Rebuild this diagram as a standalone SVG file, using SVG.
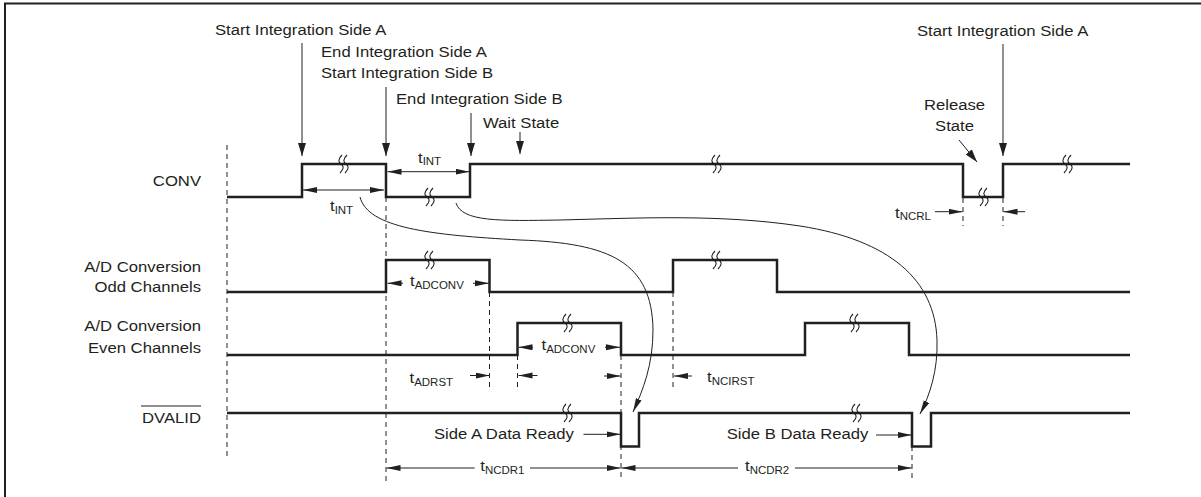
<svg xmlns="http://www.w3.org/2000/svg" width="1201" height="497" viewBox="0 0 1201 497">
<style>
text{font-family:"Liberation Sans",Arial,Helvetica,sans-serif;font-size:14.5px;fill:#231f20}
.sub{font-size:10px}
.sig{fill:none;stroke:#231f20;stroke-width:2.5;stroke-linejoin:miter}
.thin{fill:none;stroke:#231f20;stroke-width:1}
.dash{fill:none;stroke:#231f20;stroke-width:1;stroke-dasharray:5 4}
.brk{fill:none;stroke:#231f20;stroke-width:1.1}
.h{marker-end:url(#ah)}
.hh{marker-start:url(#ah);marker-end:url(#ah)}
.v{marker-end:url(#av)}
</style>
<defs>
<marker id="ah" markerUnits="userSpaceOnUse" markerWidth="15" markerHeight="7" refX="14" refY="3" orient="auto-start-reverse" viewBox="0 0 15 7">
<path d="M0,0 L14,3 L0,6 z" fill="#231f20"/>
</marker>
<marker id="av" markerUnits="userSpaceOnUse" markerWidth="14" markerHeight="9" refX="13" refY="4" orient="auto" viewBox="0 0 14 9">
<path d="M0,0 L13,4 L0,8 z" fill="#231f20"/>
</marker>
<g id="brk">
<path d="M0,-9 C-4,-5 -4,-2 -1,0 C2,2 2,5 -2,9"/>
<path d="M5,-9 C1,-5 1,-2 4,0 C7,2 7,5 3,9"/>
</g>
</defs>

<g id="frame">
<path d="M5,497 V3.5 H1201" fill="none" stroke="#231f20" stroke-width="2"/>
</g>

<g id="signal-labels">
<text transform="translate(201,185.5) scale(1.15,1)" text-anchor="end">CONV</text>
<text transform="translate(201,271.5) scale(1.15,1)" text-anchor="end">A/D Conversion</text>
<text transform="translate(201,291.5) scale(1.15,1)" text-anchor="end">Odd Channels</text>
<text transform="translate(201,330.5) scale(1.15,1)" text-anchor="end">A/D Conversion</text>
<text transform="translate(201,352.5) scale(1.15,1)" text-anchor="end">Even Channels</text>
<text transform="translate(201,423) scale(1.15,1)" text-anchor="end">DVALID</text>
<line x1="141" y1="406" x2="201" y2="406" stroke="#231f20" stroke-width="1"/>
</g>

<g id="guides">
<line class="dash" x1="227" y1="145" x2="227" y2="457"/>
<line class="dash" x1="386" y1="197" x2="386" y2="485"/>
<line class="dash" x1="489.5" y1="292" x2="489.5" y2="387"/>
<line class="dash" x1="517.5" y1="355" x2="517.5" y2="387"/>
<line class="dash" x1="621" y1="355" x2="621" y2="480"/>
<line class="dash" x1="673" y1="292" x2="673" y2="387"/>
<line class="dash" x1="912" y1="446" x2="912" y2="478"/>
<line class="dash" x1="963" y1="198" x2="963" y2="226"/>
<line class="dash" x1="1003" y1="198" x2="1003" y2="226"/>
</g>

<g id="sig-conv">
<path class="sig" d="M227,197 H302 V164 H386 V197 H470 V164 H963 V197 H1003 V164 H1130"/>
<g class="brk">
<use href="#brk" x="342" y="164"/>
<use href="#brk" x="428" y="197"/>
<use href="#brk" x="715" y="164"/>
<use href="#brk" x="982" y="197"/>
<use href="#brk" x="1066" y="164"/>
</g>
</g>

<g id="sig-odd">
<path class="sig" d="M227,292 H386 V260 H489.5 V292 H673 V260 H777 V292 H1130"/>
<g class="brk">
<use href="#brk" x="428" y="260"/>
<use href="#brk" x="715" y="260"/>
</g>
</g>

<g id="sig-even">
<path class="sig" d="M227,355 H517.5 V323 H621 V355 H805 V323 H909 V355 H1130"/>
<g class="brk">
<use href="#brk" x="566" y="323"/>
<use href="#brk" x="853" y="323"/>
</g>
</g>

<g id="sig-dvalid">
<path class="sig" d="M227,413 H621 V446.5 H639 V413 H912 V446.5 H931 V413 H1130"/>
<g class="brk">
<use href="#brk" x="566" y="413"/>
<use href="#brk" x="855" y="413"/>
</g>
</g>

<g id="event-annotations">
<text transform="translate(215,35) scale(1.15,1)">Start Integration Side A</text>
<text transform="translate(321,56.7) scale(1.15,1)">End Integration Side A</text>
<text transform="translate(321,77.7) scale(1.15,1)">Start Integration Side B</text>
<text transform="translate(396,104) scale(1.15,1)">End Integration Side B</text>
<text transform="translate(483,128.3) scale(1.15,1)">Wait State</text>
<text transform="translate(917,36) scale(1.15,1)">Start Integration Side A</text>
<text transform="translate(954.5,110) scale(1.15,1)" text-anchor="middle">Release</text>
<text transform="translate(954.5,130.7) scale(1.15,1)" text-anchor="middle">State</text>
<line class="thin v" x1="302" y1="43" x2="302" y2="156"/>
<line class="thin v" x1="386" y1="87" x2="386" y2="156"/>
<line class="thin v" x1="471" y1="113" x2="471" y2="156"/>
<line class="thin v" x1="520" y1="132" x2="520" y2="154"/>
<line class="thin v" x1="1003" y1="44" x2="1003" y2="156"/>
<line class="thin v" x1="959" y1="140" x2="977" y2="162"/>
</g>

<g id="timing">
<line class="thin hh" x1="387.5" y1="171.7" x2="469.5" y2="171.7"/>
<text transform="translate(418,163) scale(1.15,1)">t<tspan class="sub" dy="2">INT</tspan></text>
<line class="thin hh" x1="303" y1="190" x2="384" y2="190"/>
<text transform="translate(330,211) scale(1.15,1)">t<tspan class="sub" dy="2.5">INT</tspan></text>

<line class="thin h" x1="403" y1="283.3" x2="387.5" y2="283.3"/>
<line class="thin h" x1="473" y1="283.3" x2="489" y2="283.3"/>
<text transform="translate(410,286) scale(1.15,1)">t<tspan class="sub" dy="3">ADCONV</tspan></text>

<line class="thin h" x1="533" y1="347.3" x2="518.5" y2="347.3"/>
<line class="thin h" x1="605" y1="347.3" x2="620" y2="347.3"/>
<text transform="translate(541.5,350) scale(1.15,1)">t<tspan class="sub" dy="3">ADCONV</tspan></text>

<line class="thin h" x1="470" y1="375.5" x2="489.5" y2="375.5"/>
<text transform="translate(409.5,383) scale(1.15,1)">t<tspan class="sub" dy="2.7">ADRST</tspan></text>
<line class="thin h" x1="537.5" y1="375.5" x2="518.5" y2="375.5"/>
<line class="thin h" x1="604" y1="376" x2="620.5" y2="376"/>
<line class="thin h" x1="692" y1="376" x2="674" y2="376"/>
<text transform="translate(707,382) scale(1.15,1)">t<tspan class="sub" dy="3">NCIRST</tspan></text>

<line class="thin h" x1="935" y1="211.7" x2="962.5" y2="211.7"/>
<line class="thin h" x1="1025" y1="211.7" x2="1003.5" y2="211.7"/>
<text transform="translate(895,217.5) scale(1.15,1)">t<tspan class="sub" dy="2.5">NCRL</tspan></text>

<text transform="translate(434,439) scale(1.15,1)">Side A Data Ready</text>
<line class="thin h" x1="583.5" y1="434.3" x2="620.5" y2="434.3"/>
<text transform="translate(726.7,439.3) scale(1.15,1)">Side B Data Ready</text>
<line class="thin h" x1="876" y1="435" x2="911.5" y2="435"/>

<line class="thin h" x1="474.6" y1="468" x2="386.5" y2="468"/>
<line class="thin h" x1="530" y1="468" x2="620.5" y2="468"/>
<text transform="translate(480.3,470.5) scale(1.15,1)">t<tspan class="sub" dy="3">NCDR1</tspan></text>
<line class="thin h" x1="738" y1="468" x2="621.5" y2="468"/>
<line class="thin h" x1="795" y1="468" x2="911.5" y2="468"/>
<text transform="translate(745,470.5) scale(1.15,1)">t<tspan class="sub" dy="3">NCDR2</tspan></text>
</g>

<g id="connectors">
<path class="thin" marker-end="url(#ah)" d="M360,197 C368,228 430,235 520,240 C610,243 652,262 653,330 C653,365 643,390 633,412"/>
<path class="thin" marker-end="url(#ah)" d="M456,203 C462,222 500,221 560,220 C640,218 720,214 800,226 C890,240 935,280 937,340 C938,370 930,395 920,414"/>
</g>
</svg>
